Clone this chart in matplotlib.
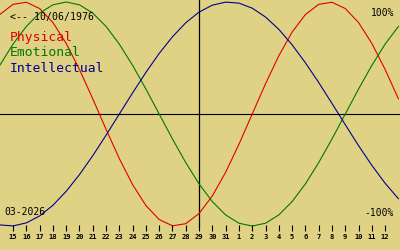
import numpy as np
import matplotlib
matplotlib.use("Agg")
from matplotlib import pyplot as plt

# days shown on the axis (03-2026 view), plus one extra day at each edge
day_labels = [15, 16, 17, 18, 19, 20, 21, 22, 23, 24, 25, 26, 27, 28, 29,
              30, 31, 1, 2, 3, 4, 5, 6, 7, 8, 9, 10, 11, 12]
curve_days = list(range(-1, 30))  # positions of the curve samples (day 14 .. day 13)

physical = [0.888, 0.979, 0.998, 0.942, 0.817, 0.631, 0.398, 0.136, -0.136, -0.398,
            -0.631, -0.817, -0.942, -0.998, -0.979, -0.888, -0.731, -0.520, -0.270, 0.0,
            0.270, 0.520, 0.731, 0.888, 0.979, 0.998, 0.942, 0.817, 0.631, 0.398, 0.136]
emotional = [0.434, 0.624, 0.782, 0.901, 0.975, 1.0, 0.975, 0.901, 0.782, 0.624,
             0.434, 0.223, 0.0, -0.223, -0.434, -0.624, -0.782, -0.901, -0.975, -1.0,
             -0.975, -0.901, -0.782, -0.624, -0.434, -0.223, 0.0, 0.223, 0.434, 0.624, 0.782]
intellectual = [-0.990, -0.999, -0.972, -0.910, -0.815, -0.690, -0.541, -0.372, -0.189, 0.0,
                0.189, 0.372, 0.541, 0.690, 0.815, 0.910, 0.972, 0.999, 0.990, 0.945,
                0.866, 0.756, 0.618, 0.458, 0.282, 0.095, -0.095, -0.282, -0.458, -0.618, -0.756]

today_idx = 14  # the 29th
birth = "10/06/1976"
month = "03-2026"

bg = '#e0d284'
mono = 'DejaVu Sans Mono'

fig = plt.figure(figsize=(4, 2.5), dpi=100)
fig.patch.set_facecolor(bg)
ax = fig.add_axes([0, 0, 1, 1])
ax.set_facecolor(bg)
ax.set_xlim(-0.98, 29.12)
ax.set_ylim(-1.214, 1.018)
ax.axis('off')

# axes cross
ax.axhline(0, color='black', lw=0.8)
ax.vlines(today_idx, -1.005, 1.1, color='black', lw=0.9)

# curves
ax.plot(curve_days, physical, color='#e00000', lw=0.8)
ax.plot(curve_days, emotional, color='#007800', lw=0.8)
ax.plot(curve_days, intellectual, color='#000090', lw=0.8)

# day ticks and labels
idx = np.arange(len(day_labels))
ax.vlines(idx, -1.04, -0.991, color='black', lw=0.8)
for i, d in zip(idx, day_labels):
    ax.text(i, -1.1, str(d), ha='center', va='center', fontsize=5.1,
            family=mono, fontweight='bold', color='black')

# texts
ax.text(0.025, 0.932, '<-- ' + birth, transform=ax.transAxes, fontsize=7.1,
        family=mono, color='black', ha='left', va='center')
ax.text(0.025, 0.848, 'Physical', transform=ax.transAxes, fontsize=9.4,
        family=mono, color='#e00000', ha='left', va='center')
ax.text(0.025, 0.788, 'Emotional', transform=ax.transAxes, fontsize=9.4,
        family=mono, color='#007800', ha='left', va='center')
ax.text(0.025, 0.728, 'Intellectual', transform=ax.transAxes, fontsize=9.4,
        family=mono, color='#000090', ha='left', va='center')
ax.text(0.985, 0.95, '100%', transform=ax.transAxes, fontsize=7,
        family=mono, color='black', ha='right', va='center')
ax.text(0.985, 0.15, '-100%', transform=ax.transAxes, fontsize=7,
        family=mono, color='black', ha='right', va='center')
ax.text(0.01, 0.152, month, transform=ax.transAxes, fontsize=7,
        family=mono, color='black', ha='left', va='center')

fig.savefig('out.png', dpi=100, facecolor=bg)
